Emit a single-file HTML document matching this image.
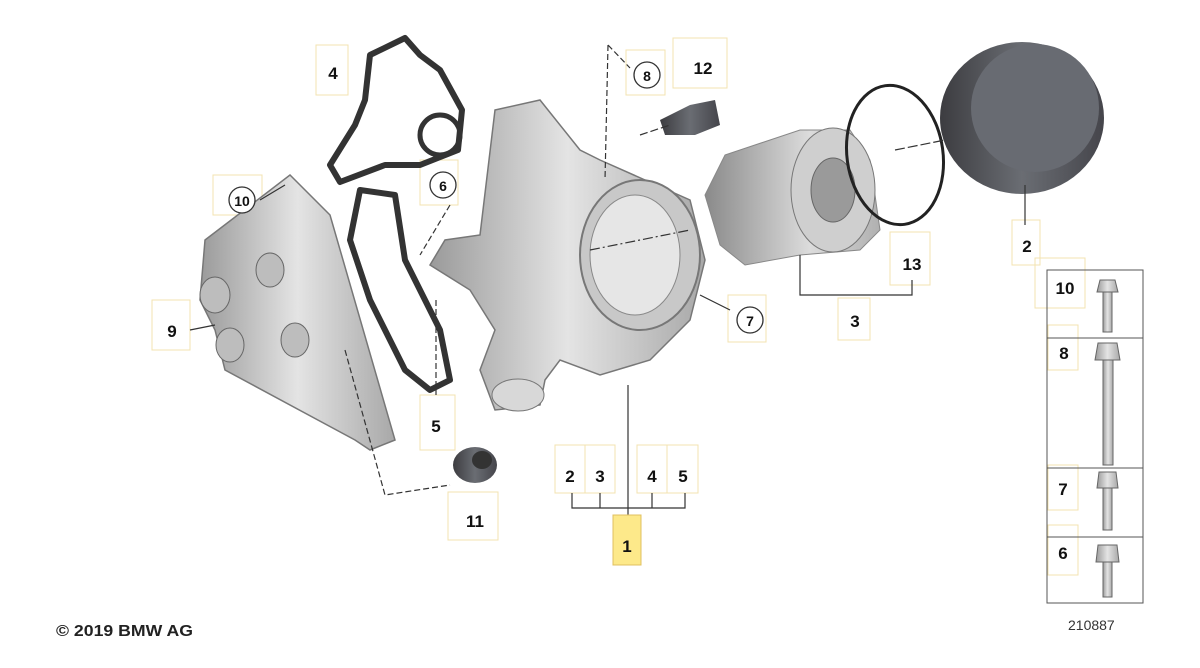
<!DOCTYPE html>
<html><head><meta charset="utf-8"><style>
html,body{margin:0;padding:0;background:#fff;}
svg{display:block;}
text{font-family:"Liberation Sans",sans-serif;font-weight:bold;fill:#111;}
</style></head><body>
<svg width="1200" height="668" viewBox="0 0 1200 668" xmlns="http://www.w3.org/2000/svg">
<defs>
<linearGradient id="g1" x1="0" x2="1"><stop offset="0" stop-color="#9a9a9a"/><stop offset="0.5" stop-color="#e4e4e4"/><stop offset="1" stop-color="#a8a8a8"/></linearGradient>
<linearGradient id="g2" x1="0" x2="1"><stop offset="0" stop-color="#3c3c40"/><stop offset="0.5" stop-color="#6a6d73"/><stop offset="1" stop-color="#45454b"/></linearGradient>
<linearGradient id="g3" x1="0" x2="1"><stop offset="0" stop-color="#8a8a8a"/><stop offset="0.6" stop-color="#dcdcdc"/><stop offset="1" stop-color="#b0b0b0"/></linearGradient>
</defs>
<g fill="none" stroke="#f3e3b0" stroke-width="1">
<rect x="316" y="45" width="32" height="50"/>
<rect x="213" y="175" width="49" height="40"/>
<rect x="152" y="300" width="38" height="50"/>
<rect x="420" y="160" width="38" height="45"/>
<rect x="420" y="395" width="35" height="55"/>
<rect x="626" y="50" width="39" height="45"/>
<rect x="673" y="38" width="54" height="50"/>
<rect x="728" y="295" width="38" height="47"/>
<rect x="838" y="298" width="32" height="42"/>
<rect x="890" y="232" width="40" height="53"/>
<rect x="1012" y="220" width="28" height="45"/>
<rect x="448" y="492" width="50" height="48"/>
<rect x="555" y="445" width="30" height="48"/>
<rect x="585" y="445" width="30" height="48"/>
<rect x="637" y="445" width="30" height="48"/>
<rect x="667" y="445" width="31" height="48"/>
<rect x="1035" y="258" width="50" height="50"/>
<rect x="1048" y="325" width="30" height="45"/>
<rect x="1048" y="465" width="30" height="45"/>
<rect x="1048" y="525" width="30" height="50"/>
</g>
<path d="M205 240 L290 175 L330 215 L395 440 L370 450 L355 440 L225 370 L215 330 L200 300 Z" fill="url(#g1)" stroke="#777" stroke-width="1.5"/>
<g fill="#bdbdbd" stroke="#666"><ellipse cx="215" cy="295" rx="15" ry="18"/><ellipse cx="270" cy="270" rx="14" ry="17"/><ellipse cx="295" cy="340" rx="14" ry="17"/><ellipse cx="230" cy="345" rx="14" ry="17"/></g>
<path d="M370 55 L405 38 L420 55 L440 70 L462 110 L458 150 L420 165 L385 165 L340 182 L330 165 L355 125 L365 100 Z" fill="none" stroke="#333" stroke-width="6" stroke-linejoin="round"/>
<circle cx="440" cy="135" r="20" fill="none" stroke="#333" stroke-width="5"/>
<path d="M360 190 L395 195 L405 260 L440 330 L450 380 L430 390 L405 370 L370 300 L350 240 Z" fill="none" stroke="#333" stroke-width="6" stroke-linejoin="round"/>
<path d="M495 110 L540 100 L580 150 L600 160 L690 200 L705 260 L690 320 L650 360 L600 375 L560 360 L545 380 L540 405 L495 410 L480 370 L495 330 L470 290 L430 265 L445 240 L480 235 Z" fill="url(#g1)" stroke="#777" stroke-width="1.5"/>
<ellipse cx="640" cy="255" rx="60" ry="75" fill="#c8c8c8" stroke="#777" stroke-width="2"/>
<ellipse cx="635" cy="255" rx="45" ry="60" fill="#e6e6e6" stroke="#888"/>
<ellipse cx="518" cy="395" rx="26" ry="16" fill="#d8d8d8" stroke="#777"/>
<path d="M660 120 L690 105 L715 100 L720 125 L695 135 L665 135 Z" fill="url(#g2)"/>
<path d="M725 155 L800 130 L850 130 L870 160 L880 230 L860 250 L800 255 L745 265 L720 245 L705 195 Z" fill="url(#g3)" stroke="#888"/>
<ellipse cx="833" cy="190" rx="42" ry="62" fill="#cfcfcf" stroke="#777"/>
<ellipse cx="833" cy="190" rx="22" ry="32" fill="#9a9a9a" stroke="#666"/>
<ellipse cx="895" cy="155" rx="48" ry="70" fill="none" stroke="#222" stroke-width="3" transform="rotate(-8 895 155)"/>
<ellipse cx="1022" cy="118" rx="82" ry="76" fill="url(#g2)"/>
<ellipse cx="1035" cy="108" rx="64" ry="64" fill="#686b72"/>
<ellipse cx="475" cy="465" rx="22" ry="18" fill="url(#g2)"/>
<ellipse cx="482" cy="460" rx="10" ry="9" fill="#333"/>
<g stroke="#333" stroke-width="1.2" fill="none">
<path d="M628 385 L628 515"/>
<path d="M572 493 L572 508 L685 508 L685 493 M600 493 L600 508 M652 493 L652 508"/>
<path d="M800 255 L800 295 L912 295 L912 280"/>
<path d="M1025 185 L1025 225"/>
<path d="M700 295 L730 310"/>
<path d="M190 330 L215 325"/>
<path d="M260 200 L285 185"/>
<path d="M436 300 L436 395" stroke-dasharray="6 3"/>
<path d="M345 350 L385 495 L450 485" stroke-dasharray="6 3"/>
<path d="M608 45 L605 180 M608 45 L630 68" stroke-dasharray="6 3"/>
<path d="M640 135 L670 125" stroke-dasharray="8 3"/>
<path d="M450 205 L420 255" stroke-dasharray="6 3"/>
<path d="M590 250 L690 230" stroke-dasharray="10 3 2 3"/>
<path d="M895 150 L945 140" stroke-dasharray="10 3"/>
</g>
<g fill="#fff" stroke="#333" stroke-width="1.3">
<circle cx="242" cy="200" r="13"/><circle cx="443" cy="185" r="13"/>
<circle cx="647" cy="75" r="13"/><circle cx="750" cy="320" r="13"/>
</g>
<rect x="613" y="515" width="28" height="50" fill="#fde98a" stroke="#e0c060"/>
<rect x="1047" y="270" width="96" height="333" fill="none" stroke="#555" stroke-width="1"/>
<g stroke="#555" stroke-width="1"><line x1="1047" y1="338" x2="1143" y2="338"/><line x1="1047" y1="468" x2="1143" y2="468"/><line x1="1047" y1="537" x2="1143" y2="537"/></g>
<g fill="url(#g1)" stroke="#666">
<path d="M1100 280 L1115 280 L1118 292 L1097 292 Z"/><rect x="1103" y="292" width="9" height="40"/>
<path d="M1098 343 L1117 343 L1120 360 L1095 360 Z"/><rect x="1103" y="360" width="10" height="105"/>
<path d="M1099 472 L1116 472 L1118 488 L1097 488 Z"/><rect x="1103" y="488" width="9" height="42"/>
<path d="M1098 545 L1117 545 L1119 562 L1096 562 Z"/><rect x="1103" y="562" width="9" height="35"/>
</g>
<g font-size="17" text-anchor="middle">
<text x="333" y="79">4</text>
<text x="242" y="206" font-size="14">10</text>
<text x="172" y="337">9</text>
<text x="443" y="191" font-size="14">6</text>
<text x="436" y="432">5</text>
<text x="647" y="81" font-size="14">8</text>
<text x="703" y="74">12</text>
<text x="750" y="326" font-size="14">7</text>
<text x="855" y="327">3</text>
<text x="912" y="270">13</text>
<text x="1027" y="252">2</text>
<text x="475" y="527">11</text>
<text x="570" y="482">2</text>
<text x="600" y="482">3</text>
<text x="652" y="482">4</text>
<text x="683" y="482">5</text>
<text x="627" y="552">1</text>
<text x="1065" y="294">10</text>
<text x="1064" y="359">8</text>
<text x="1063" y="495">7</text>
<text x="1063" y="559">6</text>
</g>
<text x="56" y="636" font-size="16" textLength="137" lengthAdjust="spacingAndGlyphs" style="fill:#222">© 2019 BMW AG</text>
<text x="1068" y="630" font-size="14" style="font-weight:normal;fill:#333">210887</text>
</svg>
</body></html>
